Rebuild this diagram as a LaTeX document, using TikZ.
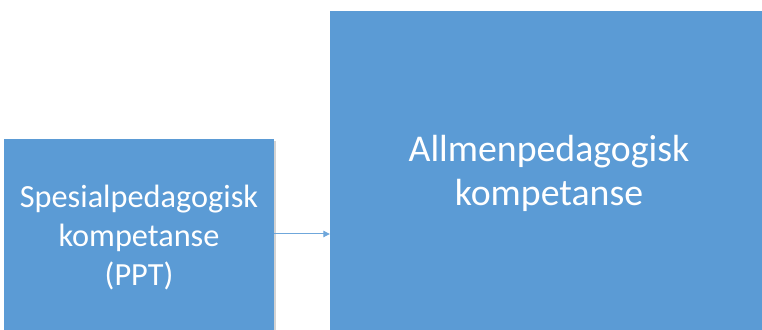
\documentclass[tikz,border=0pt]{standalone}
\usepackage{fontspec}
\setmainfont{Carlito}
\usepackage{tikz}
\usetikzlibrary{arrows.meta,positioning,shadows}
\definecolor{boxblue}{HTML}{5B9BD5}
\definecolor{arrowblue}{HTML}{6FA7DB}
\tikzset{
    %Define standard arrow tip
    >={Triangle[length=6.5pt,width=6.5pt]},
    %Define style for boxes
    kompbox/.style={
           rectangle,
           fill=boxblue,
           draw=none,
           text=white,
           align=center,
           drop shadow={shadow xshift=2pt,shadow yshift=-2pt,opacity=0.35}},
    % Define arrow style
    pil/.style={
           ->,
           draw=arrowblue,
           line width=1pt}
}
\begin{document}
\begin{tikzpicture}[x=1pt,y=1pt]
\useasboundingbox (0,0) rectangle (762,329);
\clip (0,0) rectangle (762,329);

 %nodes
\node[kompbox, minimum width=270pt, minimum height=198pt, font=\fontsize{32.3}{39}\selectfont] (spes) at (139,91)
    {Spesialpedagogisk\\kompetanse\\(PPT)};
\node[kompbox, minimum width=438pt, minimum height=324pt, font=\fontsize{37.8}{44}\selectfont] (allmen) at (549,156)
    {Allmenpedagogisk\\kompetanse};

 %arrow
\draw[pil] ([yshift=4pt]spes.east) -- ([yshift=4pt]spes.east -| allmen.west);
\end{tikzpicture}
\end{document}
